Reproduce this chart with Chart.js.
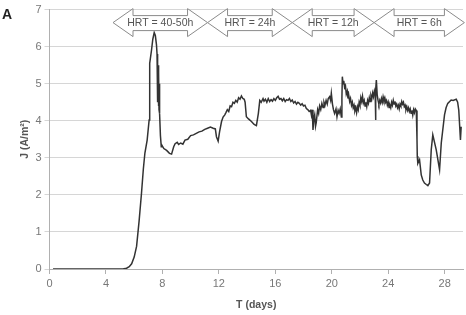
<!DOCTYPE html>
<html>
<head>
<meta charset="utf-8">
<script src="https://cdn.jsdelivr.net/npm/chart.js@4/dist/chart.umd.min.js"></script>
<style>
  html, body { margin: 0; padding: 0; background: #fff; }
  #wrap { width: 466px; height: 315px; position: relative; }
</style>
</head>
<body>
<div id="wrap"><canvas id="myChart"></canvas></div>
<script>
// T (days)
var days = [0.25, 5.2, 5.46, 5.65, 5.82, 6.0, 6.17, 6.35, 6.52, 6.65, 6.76, 6.92, 7.06, 7.09, 7.11, 7.23, 7.32, 7.42, 7.5, 7.58,
  7.62, 7.64, 7.66, 7.68, 7.7, 7.72, 7.74, 7.76, 7.78, 7.8, 7.82, 7.86, 7.92, 7.95, 8.1, 8.3, 8.5, 8.65, 8.8, 8.9,
  9.05, 9.15, 9.3, 9.45, 9.6, 9.8, 10.0, 10.2, 10.4, 10.6, 10.8, 11.0, 11.2, 11.4, 11.6, 11.75, 11.83, 11.95, 12.05, 12.19,
  12.3, 12.42, 12.5, 12.6, 12.7, 12.8, 12.9, 13.0, 13.1, 13.2, 13.3, 13.4, 13.5, 13.6, 13.7, 13.8, 13.86, 13.95, 14.1, 14.31,
  14.5, 14.66, 14.8, 14.9, 15.0, 15.13, 15.2, 15.3, 15.4, 15.5, 15.6, 15.7, 15.8, 15.9, 16.0, 16.1, 16.2, 16.3, 16.4, 16.5,
  16.6, 16.7, 16.8, 16.9, 17.0, 17.1, 17.2, 17.3, 17.4, 17.5, 17.6, 17.7, 17.8, 17.9, 18.0, 18.1, 18.2, 18.3, 18.4, 18.5,
  18.56, 18.62, 18.67, 18.73, 18.79, 18.85, 18.9, 19.0, 19.07, 19.14, 19.22, 19.3, 19.38, 19.45, 19.52, 19.6, 19.68, 19.75, 19.85, 19.92,
  19.97, 20.05, 20.12, 20.2, 20.3, 20.37, 20.45, 20.52, 20.6, 20.68, 20.72, 20.75, 20.8, 20.85, 20.91, 20.97, 21.03, 21.1, 21.15, 21.2,
  21.27, 21.33, 21.4, 21.46, 21.52, 21.58, 21.64, 21.7, 21.76, 21.82, 21.88, 21.94, 22.0, 22.06, 22.12, 22.18, 22.24, 22.3, 22.36, 22.42,
  22.48, 22.54, 22.6, 22.66, 22.72, 22.78, 22.84, 22.9, 22.96, 23.02, 23.08, 23.1, 23.13, 23.16, 23.22, 23.28, 23.34, 23.4, 23.46, 23.52,
  23.58, 23.64, 23.7, 23.76, 23.82, 23.88, 23.94, 24.0, 24.06, 24.12, 24.18, 24.24, 24.3, 24.36, 24.42, 24.48, 24.54, 24.6, 24.66, 24.72,
  24.78, 24.84, 24.9, 24.96, 25.02, 25.08, 25.14, 25.2, 25.26, 25.32, 25.38, 25.44, 25.5, 25.56, 25.62, 25.68, 25.74, 25.8, 25.86, 25.92,
  25.99, 26.04, 26.06, 26.1, 26.22, 26.34, 26.45, 26.57, 26.7, 26.81, 26.93, 27.05, 27.16, 27.4, 27.64, 27.76, 27.99, 28.1, 28.22, 28.46,
  28.6, 28.82, 28.92, 29.0, 29.12, 29.17];
// J (A/m2)
var current = [0, 0, 0.02, 0.06, 0.14, 0.32, 0.61, 1.3, 2.05, 2.7, 3.13, 3.48, 4.02, 4.8, 5.55, 5.91, 6.2, 6.38, 6.3, 6.05,
  5.8, 5.1, 5.65, 4.5, 5.5, 4.4, 5.3, 4.3, 5.0, 4.25, 4.2, 3.6, 3.3, 3.35, 3.25, 3.2, 3.12, 3.1, 3.3, 3.38,
  3.42, 3.36, 3.4, 3.37, 3.48, 3.5, 3.6, 3.62, 3.66, 3.7, 3.72, 3.77, 3.8, 3.83, 3.8, 3.78, 3.57, 3.45, 3.7, 3.98,
  4.1, 4.16, 4.22, 4.3, 4.25, 4.4, 4.38, 4.5, 4.47, 4.55, 4.5, 4.62, 4.58, 4.67, 4.6, 4.58, 4.5, 4.11, 4.05, 3.98,
  3.9, 3.87, 4.2, 4.55, 4.5, 4.6, 4.53, 4.58, 4.5, 4.6, 4.52, 4.57, 4.53, 4.6, 4.55, 4.62, 4.66, 4.58, 4.6, 4.54,
  4.6, 4.52, 4.57, 4.55, 4.6, 4.52, 4.56, 4.48, 4.52, 4.45, 4.5, 4.47, 4.42, 4.46, 4.4, 4.42, 4.33, 4.3, 4.25, 4.28,
  4.15, 4.3, 3.75, 4.05, 4.16, 3.85, 3.95, 4.3, 4.2, 4.4, 4.3, 4.47, 4.36, 4.5, 4.42, 4.55, 4.45, 4.6, 4.65, 4.55,
  4.74, 4.45, 4.3, 4.2, 4.32, 4.11, 4.28, 4.2, 4.32, 4.1, 4.6, 5.19, 5.0, 5.08, 4.9, 4.95, 4.72, 4.8, 4.6, 4.7,
  4.52, 4.6, 4.42, 4.5, 4.35, 4.42, 4.27, 4.35, 4.22, 4.38, 4.3, 4.5, 4.42, 4.62, 4.52, 4.66, 4.48, 4.55, 4.4, 4.5,
  4.38, 4.55, 4.47, 4.62, 4.52, 4.68, 4.6, 4.75, 4.65, 4.8, 4.7, 4.02, 4.85, 5.1, 4.7, 4.55, 4.45, 4.55, 4.48, 4.6,
  4.5, 4.65, 4.55, 4.62, 4.5, 4.55, 4.42, 4.5, 4.36, 4.42, 4.35, 4.5, 4.42, 4.55, 4.45, 4.52, 4.4, 4.45, 4.35, 4.42,
  4.32, 4.45, 4.4, 4.52, 4.45, 4.5, 4.38, 4.42, 4.3, 4.38, 4.28, 4.35, 4.25, 4.32, 4.2, 4.28, 4.15, 4.3, 4.22, 4.32,
  4.28, 3.5, 3.04, 2.85, 2.95, 2.54, 2.4, 2.32, 2.28, 2.25, 2.32, 3.22, 3.62, 3.22, 2.68, 3.4, 4.16, 4.35, 4.47, 4.56,
  4.55, 4.58, 4.5, 4.29, 3.48, 3.84];

var xTicks = [0, 4, 8, 12, 16, 20, 24, 28];
var yTicks = [0, 1, 2, 3, 4, 5, 6, 7];

// HRT periods: start, end (days) and label
var hrtStart = [4.5, 11.2, 17.2, 23.0];
var hrtEnd = [11.2, 17.2, 23.0, 29.4];
var hrtLabels = ['HRT = 40-50h', 'HRT = 24h', 'HRT = 12h', 'HRT = 6h'];

var points = days.map(function(d, i) { return { x: d, y: current[i] }; });

var arrowsPlugin = {
  id: 'hrtArrows',
  afterDraw: function(chart) {
    var c = chart.ctx;
    var xs = chart.scales.x;
    var top = chart.chartArea.top;
    var yc = top + 13;
    c.save();
    for (var i = 0; i < hrtStart.length; i++) {
      var x0 = xs.getPixelForValue(hrtStart[i]);
      var x1 = xs.getPixelForValue(hrtEnd[i]);
      if (x1 > 465) x1 = 465;
      var head = 20;
      c.beginPath();
      c.moveTo(x0, yc);
      c.lineTo(x0 + head, yc - 14);
      c.lineTo(x0 + head, yc - 7);
      c.lineTo(x1 - head, yc - 7);
      c.lineTo(x1 - head, yc - 14);
      c.lineTo(x1, yc);
      c.lineTo(x1 - head, yc + 14);
      c.lineTo(x1 - head, yc + 8);
      c.lineTo(x0 + head, yc + 8);
      c.lineTo(x0 + head, yc + 14);
      c.closePath();
      c.fillStyle = '#fff';
      c.fill();
      c.strokeStyle = '#8a8a8a';
      c.lineWidth = 1;
      c.stroke();
      c.fillStyle = '#555';
      c.font = '10.5px "Liberation Sans", Arial, sans-serif';
      c.textAlign = 'center';
      c.textBaseline = 'middle';
      c.fillText(hrtLabels[i], (x0 + x1) / 2, yc + 1);
    }
    c.fillStyle = '#222';
    c.font = 'bold 14px "Liberation Sans", Arial, sans-serif';
    c.textAlign = 'left';
    c.textBaseline = 'alphabetic';
    c.fillText('A', 2, 19);
    c.restore();
  }
};

var ctx = document.getElementById('myChart').getContext('2d');
var myChart = new Chart(ctx, {
  type: 'scatter',
  data: {
    datasets: [{
      data: points,
      showLine: true,
      borderColor: '#333',
      borderWidth: 1.5,
      pointRadius: 0,
      tension: 0
    }]
  },
  options: {
    responsive: true,
    maintainAspectRatio: false,
    animation: false,
    layout: { padding: { left: 15, right: 3, top: 9, bottom: 0 } },
    plugins: { legend: { display: false }, tooltip: { enabled: false } },
    scales: {
      x: {
        type: 'linear',
        min: 0,
        max: 29.3,
        afterBuildTicks: function(axis) {
          axis.ticks = xTicks.map(function(v) { return { value: v }; });
        },
        afterFit: function(axis) { axis.height = 46; },
        grid: { drawOnChartArea: false, tickLength: 5, color: '#b0b0b0' },
        border: { color: '#b0b0b0' },
        ticks: { color: '#777', font: { family: '"Liberation Sans", Arial', size: 11 }, padding: 3, maxRotation: 0 },
        title: {
          display: true,
          text: 'T (days)',
          color: '#555',
          font: { family: '"Liberation Sans", Arial', size: 10.5, weight: 'bold' },
          padding: { top: 10, bottom: 4 }
        }
      },
      y: {
        min: 0,
        max: 7,
        afterBuildTicks: function(axis) {
          axis.ticks = yTicks.map(function(v) { return { value: v }; });
        },
        afterFit: function(axis) { axis.width = 34.5; },
        grid: { color: '#d6d6d6', tickLength: 5 },
        border: { color: '#b0b0b0' },
        ticks: { color: '#777', font: { family: '"Liberation Sans", Arial', size: 11 }, padding: 3 },
        title: {
          display: true,
          text: 'J (A/m²)',
          color: '#555',
          font: { family: '"Liberation Sans", Arial', size: 10.5, weight: 'bold' },
          padding: { top: 4, bottom: 4 }
        }
      }
    }
  },
  plugins: [arrowsPlugin]
});
</script>
</body>
</html>
